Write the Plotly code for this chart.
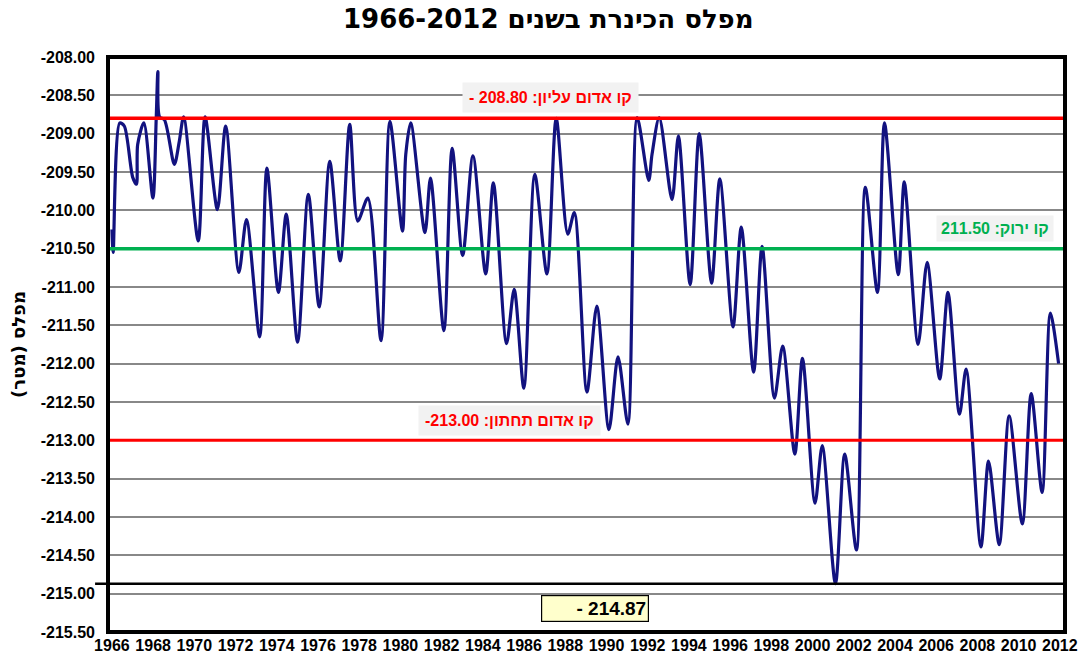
import plotly.graph_objects as go

# ---- data ----
years = [1966.00, 1966.06, 1966.38, 1966.60, 1967.01, 1967.19, 1967.25, 1967.55, 1967.99,
         1968.15, 1968.23, 1968.31, 1968.55, 1969.03, 1969.27, 1969.48, 1970.19, 1970.52,
         1971.12, 1971.52, 1972.16, 1972.53, 1973.17, 1973.52, 1974.08, 1974.46, 1975.01,
         1975.53, 1976.06, 1976.57, 1977.08, 1977.54, 1977.93, 1978.42, 1979.06, 1979.49,
         1980.10, 1980.26, 1980.50, 1981.19, 1981.46, 1982.11, 1982.51, 1983.02, 1983.52,
         1984.14, 1984.51, 1985.15, 1985.52, 1985.99, 1986.52, 1987.11, 1987.56, 1988.12,
         1988.44, 1989.05, 1989.53, 1990.12, 1990.56, 1991.04, 1991.49, 1992.05, 1992.21,
         1992.56, 1993.18, 1993.49, 1994.06, 1994.50, 1995.10, 1995.50, 1996.14, 1996.54,
         1997.14, 1997.55, 1998.15, 1998.55, 1999.14, 1999.51, 2000.12, 2000.47, 2001.11,
         2001.56, 2002.13, 2002.56, 2003.15, 2003.49, 2004.16, 2004.45, 2005.12, 2005.56,
         2006.17, 2006.57, 2007.13, 2007.45, 2008.17, 2008.54, 2009.06, 2009.54, 2010.18,
         2010.61, 2011.14, 2011.54, 2011.94]
levels = [-210.25, -210.55, -208.86, -208.90, -209.57, -209.66, -209.14, -208.86, -209.84,
          -208.80, -208.19, -208.78, -208.82, -209.40, -209.10, -208.78, -210.40, -208.78,
          -209.99, -208.90, -210.81, -210.12, -211.65, -209.45, -211.07, -210.05, -211.72,
          -209.79, -211.26, -209.36, -210.66, -208.88, -210.14, -209.84, -211.70, -208.84,
          -210.27, -209.27, -208.86, -210.29, -209.58, -211.57, -209.19, -210.59, -209.29,
          -210.83, -209.64, -211.74, -211.03, -212.32, -209.53, -210.83, -208.80, -210.31,
          -210.03, -212.37, -211.25, -212.86, -211.91, -212.79, -208.79, -209.61, -209.27,
          -208.79, -209.86, -209.03, -210.97, -209.00, -210.95, -209.59, -211.52, -210.22,
          -212.11, -210.47, -212.45, -211.77, -213.18, -211.93, -213.82, -213.07, -214.87,
          -213.18, -214.43, -209.70, -211.07, -208.86, -210.84, -209.63, -211.75, -210.68,
          -212.20, -211.07, -212.66, -212.07, -214.39, -213.27, -214.36, -212.68, -214.09,
          -212.39, -213.68, -211.34, -212.00]

tick_years = list(range(1966, 2013, 2))
tick_labels = [str(y) for y in tick_years]
y_ticks = [-208.0 - 0.5 * i for i in range(16)]
y_tick_labels = ["%.2f" % v for v in y_ticks]  # plain hyphen-minus as in the reference

upper_red = -208.80
green_line = -210.50
lower_red = -213.00
record_low = -214.87

title_text = "1966-2012 " + "מפלס הכינרת בשנים"
ytitle_text = "\u202Bמפלס (מטר)\u202C"
upper_label = "- 208.80 :" + "קו אדום עליון"
green_label = "211.50 :" + "קו ירוק"
lower_label = "-213.00 :" + "קו אדום תחתון"
low_label = "- 214.87"

FONT = "Liberation Sans, Arial, sans-serif"
FONT_HEAVY = "DejaVu Sans, Liberation Sans, sans-serif"

fig = go.Figure()
fig.add_trace(go.Scatter(
    x=years, y=levels, mode="lines",
    line=dict(color="#12127f", width=3.2, shape="spline", smoothing=0.8),
    showlegend=False, hoverinfo="x+y"))

# reference lines
fig.add_shape(type="line", xref="paper", yref="y", x0=0, x1=1, y0=green_line, y1=green_line,
              line=dict(color="#00b050", width=3.5), layer="above")
fig.add_shape(type="line", xref="paper", yref="y", x0=0, x1=1, y0=upper_red, y1=upper_red,
              line=dict(color="#ff0000", width=3.5), layer="above")
fig.add_shape(type="line", xref="paper", yref="y", x0=0, x1=1, y0=lower_red, y1=lower_red,
              line=dict(color="#ff0000", width=3), layer="above")
fig.add_shape(type="line", xref="paper", yref="y", x0=-0.0135, x1=1, y0=record_low, y1=record_low,
              line=dict(color="#000000", width=2.5), layer="above")
# frame
fig.add_shape(type="rect", xref="paper", yref="paper", x0=0, x1=1, y0=0, y1=1,
              line=dict(color="#000000", width=4), layer="above")

fig.add_annotation(x=1987.27, y=-208.53, text=upper_label, showarrow=False,
                   font=dict(family=FONT, size=16, color="#ff0000", weight="bold"),
                   bgcolor="#f2f2f2", borderpad=6)
fig.add_annotation(x=2008.83, y=-210.24, text=green_label, showarrow=False,
                   font=dict(family=FONT, size=16, color="#00b050", weight="bold"),
                   bgcolor="#f2f2f2", borderpad=4)
fig.add_annotation(x=1985.30, y=-212.74, text=lower_label, showarrow=False,
                   font=dict(family=FONT, size=16, color="#ff0000", weight="bold"),
                   bgcolor="#f2f2f2", borderpad=6)
fig.add_annotation(x=1989.42, y=-215.19, text=low_label, showarrow=False,
                   font=dict(family=FONT, size=19, color="#000000", weight="bold"),
                   bgcolor="#ffffcc", bordercolor="#000000", borderwidth=1.2, borderpad=2,
                   width=102, align="right")

fig.update_layout(
    width=1090, height=666,
    margin=dict(l=108, r=17, t=57, b=32),
    paper_bgcolor="white", plot_bgcolor="white",
    title=dict(text=title_text, x=0.503, xref="container", y=0.972, yref="container",
               xanchor="center", yanchor="middle",
               font=dict(family=FONT_HEAVY, size=26, color="#000000", weight="bold")),
    xaxis=dict(range=[1965.81, 2012.25], tickvals=tick_years, ticktext=tick_labels,
               showgrid=False, zeroline=False, ticks="", showline=False,
               tickfont=dict(family=FONT, size=16, color="#000000", weight="bold"),
               ticklabelstandoff=2),
    yaxis=dict(range=[-215.5, -208.0], tickvals=y_ticks, ticktext=y_tick_labels,
               showgrid=True, gridcolor="#888888", gridwidth=1.5, zeroline=False,
               ticks="", showline=False,
               tickfont=dict(family=FONT, size=16, color="#000000", weight="bold"),
               ticklabelstandoff=12,
               title=dict(text=ytitle_text, standoff=10,
                          font=dict(family=FONT_HEAVY, size=18, color="#000000", weight="bold"))),
)

# remove the default page margin so the 1090x666 figure fills the window exactly
fig.write_html("out.html", config={"displayModeBar": False},
               post_script="document.body.style.margin='0';document.body.style.overflow='hidden';")
